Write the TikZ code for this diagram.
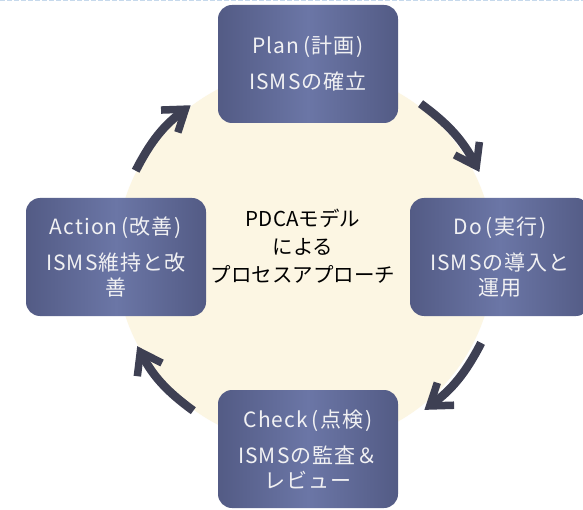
\documentclass[tikz,border=0pt]{standalone}
\usepackage{fontspec}
\newfontfamily\jpfont{Noto Sans CJK JP}
\newfontfamily\jpboxfont[LetterSpace=5]{Noto Sans CJK JP}
\usetikzlibrary{arrows.meta}
\definecolor{cream}{HTML}{FCF6E3}
\definecolor{boxdark}{HTML}{535B85}
\definecolor{boxlight}{HTML}{6B76A6}
\definecolor{boxtext}{HTML}{F1F1F3}
\definecolor{arrowink}{HTML}{3E4053}
\definecolor{rulecol}{HTML}{C6D9EC}
\newcommand\phasetitle[2]{#1\hspace{4pt}(#2\hspace{2pt})}
\begin{document}
\begin{tikzpicture}[x=1pt,y=1pt,
  phase/.style={rectangle, rounded corners=14pt, minimum width=180pt,
    minimum height=118pt, inner sep=0pt,
    left color=boxdark, right color=boxdark, middle color=boxlight,
    text=boxtext, align=center, font=\jpboxfont\fontsize{21}{25}\selectfont},
  cyc/.style={arrowink, line width=8.5pt,
    -{Straight Barb[length=20pt,width=28pt,line width=7.5pt]}},
]
\useasboundingbox (0,0) rectangle (583,509);
\clip (0,0) rectangle (583,509);
\fill[white] (0,0) rectangle (583,509);

% background disc
\coordinate (ctr) at (305,252);
\fill[cream] (ctr) circle[radius=189];

% dashed rule along the top edge
\draw[rulecol, line width=1.5pt, dash pattern=on 4.5pt off 2.5pt] (0,508.3) -- (583,508.3);

% the four phases
\node[phase] (plan)   at (308,445) {\phasetitle{Plan}{計画}\\[11pt]ISMSの確立};
\node[phase] (do)     at (500,252) {\phasetitle{Do}{実行}\\[11pt]ISMSの導入と\\運用};
\node[phase] (check)  at (308,60)  {\phasetitle{Check}{点検}\\[11pt]ISMSの監査＆\\レビュー};
\node[phase] (action) at (116,252) {\phasetitle{Action}{改善}\\[11pt]ISMS維持と改\\善};

% centre caption
\node[font=\jpfont\fontsize{20.5}{28}\selectfont, align=center] (core) at (303,263)
  {PDCAモデル\\による\\プロセスアプローチ};

% end points of the cycle arrows on the rim
\path (ctr) ++(153:190) coordinate (a1s);
\path (ctr) ++(127:190) coordinate (a1e);
\path (ctr) ++(53:192)  coordinate (a2s);
\path (ctr) ++(26:194)  coordinate (a2e);
\path (ctr) ++(-26:196) coordinate (a3s);
\path (ctr) ++(-52:194) coordinate (a3e);
\path (ctr) ++(234:190) coordinate (a4s);
\path (ctr) ++(208:190) coordinate (a4e);

\draw[cyc] (a1s) to[bend left=13] (a1e);
\draw[cyc] (a2s) to[bend left=13] (a2e);
\draw[cyc] (a3s) to[bend left=13] (a3e);
\draw[cyc] (a4s) to[bend left=13] (a4e);
\end{tikzpicture}
\end{document}
